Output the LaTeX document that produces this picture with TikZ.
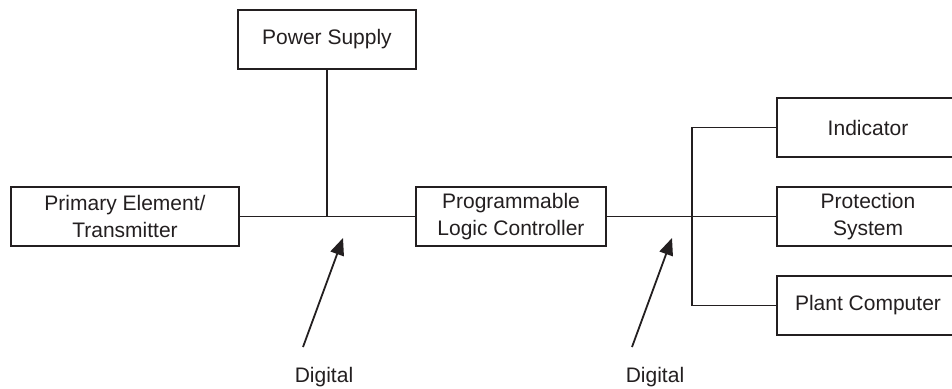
\documentclass[tikz,border=0pt]{standalone}
\usepackage{fontspec}
\setmainfont{Liberation Sans}
\usetikzlibrary{arrows.meta}
\definecolor{ink}{RGB}{35,31,32}
\begin{document}
\begin{tikzpicture}[x=1pt,y=-1pt,
  block/.style={draw=ink,line width=1.5pt,minimum height=59pt,inner sep=0pt,
    align=center,text=ink,font=\fontsize{21}{27}\selectfont},
  wire/.style={draw=ink,line width=1.4pt},
  pointer/.style={draw=ink,line width=1.8pt,-{Triangle[length=17pt,width=14pt]}},
  caption/.style={text=ink,font=\fontsize{21}{27}\selectfont,inner sep=0pt}]
\clip (0,0) rectangle (952,388);
\fill[white] (0,0) rectangle (952,388);

% blocks
\node[block,minimum width=228pt] (prim)  at (125,216.5) {Primary Element/\\Transmitter};
\node[block,minimum width=178pt] (power) at (327,39.5)  {Power Supply};
\node[block,minimum width=190pt] (plc)   at (511,216.5) {Programmable\\Logic Controller};
\node[block,minimum width=182pt] (ind)   at (868,127.5) {Indicator};
\node[block,minimum width=182pt] (prot)  at (868,216.5) {Protection\\System};
\node[block,minimum width=182pt] (plant) at (868,305.5) {Plant Computer};

% wiring
\draw[wire] (prim.east) -- (plc.west);
\draw[wire] (power.south) -- (power.south |- prim.east);
\draw[wire] (plc.east) -- (prot.west);
\coordinate (bus) at (692,0);
\draw[wire] (ind.west) -| (bus |- ind.west) |- (plant.west);

% signal labels
\node[caption] (d1) at (324,377) {Digital};
\node[caption] (d2) at (655,377) {Digital};
\coordinate (t1) at (303,347);
\coordinate (h1) at (343,238);
\coordinate (t2) at (632,347);
\coordinate (h2) at (672,238);
\draw[pointer] (t1) -- (h1);
\draw[pointer] (t2) -- (h2);
\end{tikzpicture}
\end{document}
